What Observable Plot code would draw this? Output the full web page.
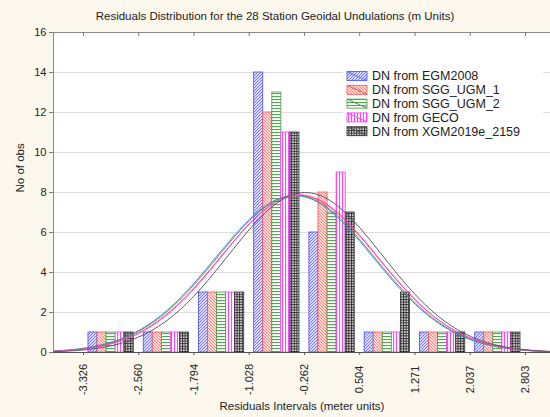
<!DOCTYPE html>
<html><head><meta charset="utf-8">
<script src="https://cdn.jsdelivr.net/npm/d3@7"></script>
<script src="https://cdn.jsdelivr.net/npm/@observablehq/plot@0.6"></script>
<style>
html,body{margin:0;padding:0;background:#fcf8ee;}
#chart{width:550px;height:417px;}
svg{font-family:"Liberation Sans",Arial,sans-serif;}
</style></head><body><div id="chart"></div>
<script>
// ---- data ----
const title = "Residuals Distribution for the 28 Station Geoidal Undulations (m Units)";
const xLabel = "Residuals Intervals (meter units)";
const yLabel = "No of obs";
const tickLabels = ["-3.326","-2.560","-1.794","-1.028","-0.262","0.504","1.271","2.037","2.803"];
const yTicks = [0,2,4,6,8,10,12,14,16];
const seriesNames = ["DN from EGM2008","DN from SGG_UGM_1","DN from SGG_UGM_2","DN from GECO","DN from XGM2019e_2159"];
const countsEGM2008 = [1,1,3,14,6,1,1,1];
const countsSGG1    = [1,1,3,12,8,1,1,1];
const countsSGG2    = [1,1,3,13,7,1,1,1];
const countsGECO    = [1,1,3,11,9,1,1,1];
const countsXGM     = [1,1,3,11,7,3,1,1];
const fitMean = [-0.40,-0.34,-0.38,-0.33,-0.25];
const fitSD   = [1.09,1.09,1.09,1.085,1.07];
const nObs = 28;

// ---- styling ----
const colors = ["#4848ff","#ff5050","#3f9f3f","#ff33ff","#333333"];
const curveColors = ["#4a78ff","#ff4a4a","#45a045","#ff40ff","#555555"];
const xDomain = [-3.742, 3.15];

const edges = tickLabels.map(Number);
const bw = edges[1] - edges[0];
const allCounts = [countsEGM2008, countsSGG1, countsSGG2, countsGECO, countsXGM];
const inset = 0.09, frac = 0.164;

const barData = allCounts.map((counts, i) => counts.map((c, j) => ({
  series: i,
  x1: edges[j] + bw * (inset + i * frac),
  x2: edges[j] + bw * (inset + (i + 1) * frac),
  count: c
})));

const curveData = fitMean.map((m, i) => {
  const pts = [];
  for (let x = xDomain[0]; x <= xDomain[1] + 1e-9; x += 0.02) {
    const z = (x - m) / fitSD[i];
    pts.push({x, y: nObs * bw * Math.exp(-0.5 * z * z) / (fitSD[i] * Math.sqrt(2 * Math.PI))});
  }
  return pts;
});

const defs = () => {
  const d = d3.create("svg:defs");
  let p = d.append("pattern").attr("id","p0").attr("patternUnits","userSpaceOnUse").attr("width",3).attr("height",3);
  p.append("rect").attr("width",3).attr("height",3).attr("fill","#dcdcff");
  p.append("path").attr("d","M-1,1 L1,-1 M0,3 L3,0 M2,4 L4,2").attr("stroke","#5a5aff").attr("stroke-width",0.8);
  p = d.append("pattern").attr("id","p1").attr("patternUnits","userSpaceOnUse").attr("width",3).attr("height",3);
  p.append("rect").attr("width",3).attr("height",3).attr("fill","#ffdcd6");
  p.append("path").attr("d","M-1,2 L1,4 M0,0 L3,3 M2,-1 L4,1").attr("stroke","#ff6a6a").attr("stroke-width",0.8);
  p = d.append("pattern").attr("id","p2").attr("patternUnits","userSpaceOnUse").attr("width",3).attr("height",3);
  p.append("rect").attr("width",3).attr("height",3).attr("fill","#ffffff");
  p.append("rect").attr("y",0).attr("width",3).attr("height",1.1).attr("fill","#52a852");
  p = d.append("pattern").attr("id","p3").attr("patternUnits","userSpaceOnUse").attr("width",3).attr("height",3);
  p.append("rect").attr("width",3).attr("height",3).attr("fill","#ffffff");
  p.append("rect").attr("x",0).attr("width",1.1).attr("height",3).attr("fill","#ff44ff");
  p = d.append("pattern").attr("id","p4").attr("patternUnits","userSpaceOnUse").attr("width",2.6).attr("height",2.6);
  p.append("rect").attr("width",2.6).attr("height",2.6).attr("fill","#e8e8e8");
  p.append("rect").attr("width",2.6).attr("height",1).attr("fill","#303030");
  p.append("rect").attr("width",1).attr("height",2.6).attr("fill","#303030");
  return d.node();
};

const legend = () => {
  const g = d3.create("svg:g").attr("text-anchor","start");
  g.append("rect").attr("x",343).attr("y",67).attr("width",200).attr("height",72).attr("fill","white");
  seriesNames.forEach((name, i) => {
    const y = 76 + i * 13.8;
    g.append("rect").attr("x",347).attr("y",y-4.5).attr("width",20).attr("height",9)
      .attr("fill",`url(#p${i})`).attr("stroke",colors[i]).attr("stroke-width",0.8);
    g.append("line").attr("x1",347).attr("y1",y-4.5).attr("x2",367).attr("y2",y+4.5)
      .attr("stroke",curveColors[i]).attr("stroke-width",1);
    g.append("text").attr("x",372).attr("y",y).attr("dy","0.35em").attr("text-anchor","start")
      .attr("font-size",12.5).attr("fill","#222").text(name);
  });
  return g.node();
};

const marks = [
  defs,
  Plot.frame({fill: "white", stroke: null}),
  Plot.ruleY(yTicks.filter(d => d > 0 && d < 16), {stroke: "#dcdcdc", strokeWidth: 1}),
  ...barData.map((bars, i) => Plot.rect(bars, {
    x1: "x1", x2: "x2", y1: 0, y2: "count",
    fill: `url(#p${i})`, stroke: colors[i], strokeWidth: 0.8
  })),
  ...curveData.map((pts, i) => Plot.line(pts, {x: "x", y: "y", stroke: curveColors[i], strokeWidth: 1})),
  legend,
  Plot.ruleX([xDomain[0]], {stroke: "#8a8a8a"}),
  Plot.ruleY([16], {stroke: "#8a8a8a"}),
  Plot.ruleY([0], {stroke: "#555"}),
  Plot.tickX(edges, {x: d => d, insetBottom: 316, stroke: "#777"}),
  Plot.axisX({ticks: edges, tickSize: 3, tickFormat: () => "", stroke: "#555", label: null}),
  Plot.axisY({ticks: yTicks, tickSize: 4, tickPadding: 3, label: null, fontSize: 11, fill: "#222", stroke: "#777"}),
  Plot.text(tickLabels, {x: d => +d, text: d => d, frameAnchor: "bottom", dy: 27, rotate: -90,
    textAnchor: "middle", lineAnchor: "middle", fontSize: 11, fill: "#222"}),
  Plot.text([title], {frameAnchor: "top", dx: -27, dy: -21, fontSize: 11.5, fill: "#222"}),
  Plot.text([xLabel], {frameAnchor: "bottom", dy: 57, fontSize: 11.5, fill: "#222"}),
  Plot.text([yLabel], {frameAnchor: "left", dx: -33, rotate: -90, fontSize: 11.5, fill: "#222"})
];

const chart = Plot.plot({
  width: 550, height: 417,
  marginLeft: 53, marginRight: 0, marginTop: 32, marginBottom: 65,
  style: {background: "#fcf8ee", fontFamily: "'Liberation Sans', Arial, sans-serif"},
  x: {domain: xDomain, axis: null},
  y: {domain: [0, 16], axis: null},
  marks
});
document.getElementById("chart").append(chart);
</script></body></html>
